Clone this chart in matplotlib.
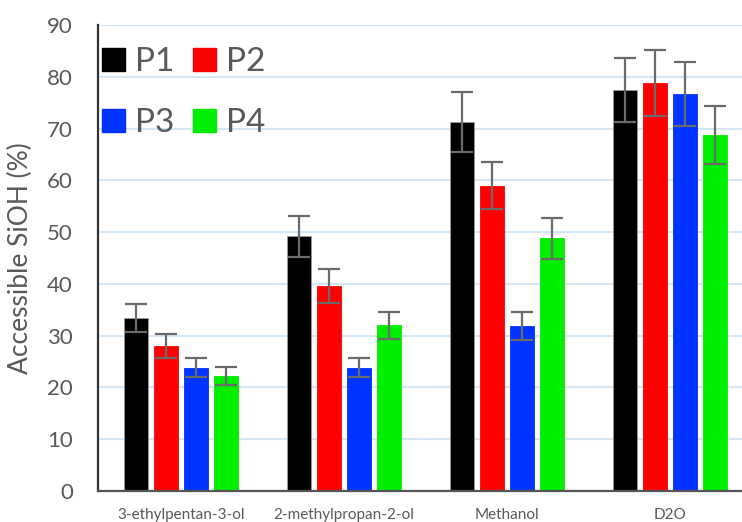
import matplotlib
matplotlib.use("Agg")
import matplotlib.pyplot as plt
from matplotlib.patches import Patch
import numpy as np

categories = ["3-ethylpentan-3-ol", "2-methylpropan-2-ol", "Methanol", "D2O"]
series = ["P1", "P2", "P3", "P4"]
colors = ["#000000", "#ff0000", "#0033ff", "#00ee00"]

p1 = [33.5, 49.2, 71.3, 77.5]
p2 = [28.0, 39.6, 59.0, 78.8]
p3 = [23.8, 23.8, 31.8, 76.7]
p4 = [22.2, 32.0, 48.8, 68.8]
values = [p1, p2, p3, p4]

p1_err = [2.7, 4.0, 5.8, 6.2]
p2_err = [2.4, 3.2, 4.6, 6.3]
p3_err = [1.8, 1.8, 2.7, 6.2]
p4_err = [1.7, 2.6, 4.0, 5.6]
errors = [p1_err, p2_err, p3_err, p4_err]

text_color = "#595959"
plt.rcParams["font.family"] = ["Lato", "DejaVu Sans"]

fig = plt.figure(figsize=(7.42, 5.22), dpi=100)
ax = fig.add_axes([98 / 742, 31 / 522, 1 - 98 / 742, (491 - 25) / 522])

x = np.arange(len(categories))
step = 0.184
width = 0.145
handles = []
for i, (vals, errs, col) in enumerate(zip(values, errors, colors)):
    pos = x + (i - 1.5) * step
    ax.bar(pos, vals, width, color=col, edgecolor="#9a9a9a" if i == 0 else col,
           linewidth=0.6, zorder=2)
    ax.errorbar(pos, vals, yerr=errs, fmt="none", ecolor="#6b6b6b",
                elinewidth=1.6, capsize=8, capthick=1.6, zorder=3)
    handles.append(Patch(facecolor=col, edgecolor=col))

ax.set_xlim(-0.51, 3.44)
ax.set_ylim(0, 90)
ax.set_yticks(np.arange(0, 91, 10))
ax.yaxis.grid(True, color="#d5e6f4", linewidth=1.5, zorder=0)
ax.set_axisbelow(True)

ax.set_xticks(x)
ax.set_xticklabels(categories, fontsize=11, color=text_color)
ax.tick_params(axis="x", length=0, pad=12)
ax.tick_params(axis="y", length=0, pad=18, labelsize=16, labelcolor=text_color)

for s in ["top", "right"]:
    ax.spines[s].set_visible(False)
ax.spines["left"].set_color("#333333")
ax.spines["left"].set_linewidth(1.6)
ax.spines["bottom"].set_color("#555555")
ax.spines["bottom"].set_linewidth(1.6)

ax.set_ylabel("Accessible SiOH (%)", fontsize=19, color=text_color, labelpad=10)

# two columns, filled row by row: P1 P2 / P3 P4
order = [0, 2, 1, 3]
leg = ax.legend([handles[k] for k in order], [series[k] for k in order],
                ncol=2, loc="upper left", bbox_to_anchor=(-0.025, 0.995),
                frameon=False, fontsize=24, handlelength=0.7, handleheight=0.7,
                handletextpad=0.3, columnspacing=0.55, labelspacing=0.93,
                labelcolor=text_color, borderaxespad=0.2)

fig.savefig("out.png", dpi=100)
